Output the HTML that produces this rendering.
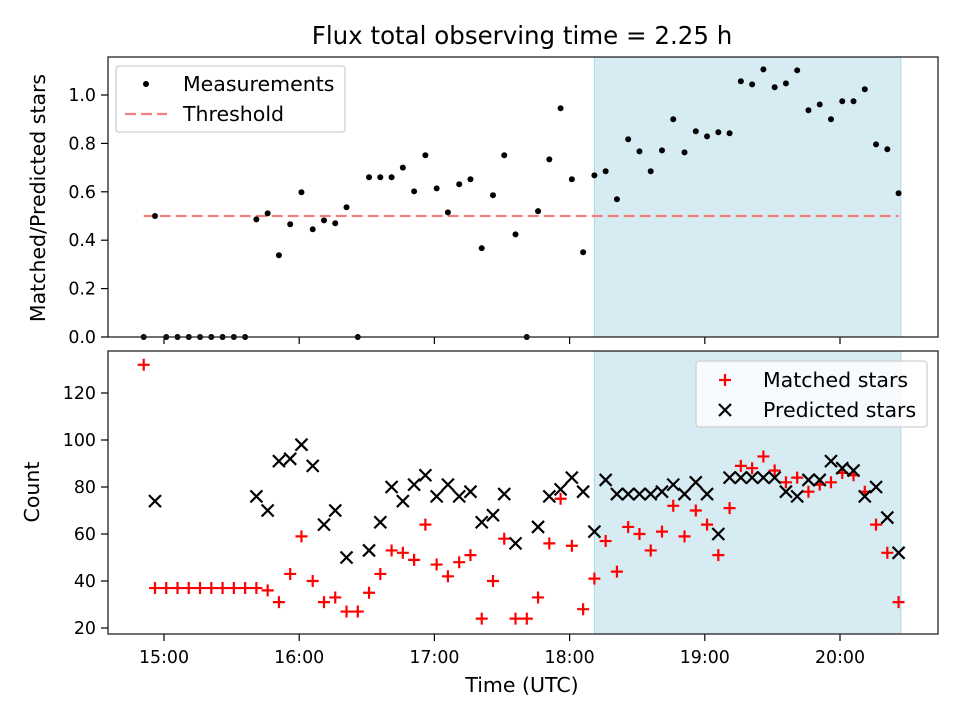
<!DOCTYPE html>
<html><head><meta charset="utf-8"><style>
body{margin:0;background:#fff}
svg{display:block;font-family:"DejaVu Sans","Liberation Sans",sans-serif}
</style></head><body>
<svg id="chart" width="960" height="720" viewBox="0 0 960 720" xmlns="http://www.w3.org/2000/svg">
<rect width="960" height="720" fill="#fff"/>
<text x="522" y="44" font-size="24.5" text-anchor="middle">Flux total observing time = 2.25 h</text>
<g id="top"></g><g id="bot"></g>
</svg>
<script>
const times=["14:51","14:56","15:01","15:06","15:11","15:16","15:21","15:26","15:31","15:36","15:41","15:46","15:51","15:56","16:01","16:06","16:11","16:16","16:21","16:26","16:31","16:36","16:41","16:46","16:51","16:56","17:01","17:06","17:11","17:16","17:21","17:26","17:31","17:36","17:41","17:46","17:51","17:56","18:01","18:06","18:11","18:16","18:21","18:26","18:31","18:36","18:41","18:46","18:51","18:56","19:01","19:06","19:11","19:16","19:21","19:26","19:31","19:36","19:41","19:46","19:51","19:56","20:01","20:06","20:11","20:16","20:21","20:26"];
const ratio=[0,0.50,0,0,0,0,0,0,0,0,0.486,0.511,0.338,0.466,0.598,0.445,0.482,0.470,0.536,0,0.66,0.66,0.66,0.70,0.602,0.751,0.614,0.515,0.631,0.652,0.367,0.586,0.751,0.424,0,0.52,0.734,0.945,0.652,0.35,0.668,0.685,0.569,0.817,0.767,0.685,0.771,0.90,0.763,0.85,0.829,0.846,0.842,1.057,1.044,1.106,1.032,1.048,1.102,0.937,0.961,0.90,0.974,0.974,1.024,0.796,0.776,0.594];
const matched=[132,37,37,37,37,37,37,37,37,37,37,36,31,43,59,40,31,33,27,27,35,43,53,52,49,64,47,42,48,51,24,40,58,24,24,33,56,75,55,28,41,57,44,63,60,53,61,72,59,70,64,51,71,89,88,93,87,82,84,78,81,82,86,85,78,64,52,31];
const predicted=[null,74,null,null,null,null,null,null,null,null,76,70,91,92,98,89,64,70,50,null,53,65,80,74,81,85,76,81,76,78,65,68,77,56,null,63,76,79,84,78,61,83,77,77,77,77,78,81,77,82,77,60,84,84,84,84,84,78,76,83,83,91,88,87,76,80,67,52];
const threshold=0.5;
const shadeSpan=["18:11","20:27"];
const xTicks=["15:00","16:00","17:00","18:00","19:00","20:00"];
const topTicks=[0,0.2,0.4,0.6,0.8,1.0];
const botTicks=[20,40,60,80,100,120];

const NS="http://www.w3.org/2000/svg";
function mk(parent,tag,attrs){const e=document.createElementNS(NS,tag);for(const k in attrs)e.setAttribute(k,attrs[k]);parent.appendChild(e);return e;}
function mins(t){const p=t.split(":");return (+p[0])*60+(+p[1])-900;}
const L=108,R=938;
const FT=17.4, FL=20.5;
function X(t){return 164+mins(t)*135.2/60;}
const T0=57,T1=337; function YT(v){return 337-v*242;}
const B0=351,B1=634; function YB(v){return 393+(120-v)*2.35;}

function panel(g,y0,y1,name){
  const s=mk(g,'rect',{x:X(shadeSpan[0]),y:y0,width:X(shadeSpan[1])-X(shadeSpan[0]),height:y1-y0,fill:'#add8e6','fill-opacity':0.5,stroke:'#add8e6','stroke-width':1});
  
  
  xTicks.forEach(t=>{const l=mk(g,'line',{x1:X(t),x2:X(t),y1:y1,y2:y1+7,stroke:'#000','stroke-width':1.2});
    
    });
}
function frame(g,y0,y1,name){
  const f=mk(g,'rect',{x:L,y:y0,width:R-L,height:y1-y0,fill:'none',stroke:'#222','stroke-width':1.3});
  
  
}
const gt=document.getElementById('top'), gb=document.getElementById('bot');
panel(gt,T0,T1,'top');
const th=mk(gt,'line',{x1:X(times[0]),x2:X(times[times.length-1]),y1:YT(threshold),y2:YT(threshold),stroke:'#f08080','stroke-width':2.2,'stroke-dasharray':'11,5'});


ratio.forEach((v,i)=>{const c=mk(gt,'circle',{cx:X(times[i]),cy:YT(v),r:3,fill:'#000'});
  
  });
frame(gt,T0,T1,'top');
topTicks.forEach(v=>{const y=YT(v);
  mk(gt,'line',{x1:L-7,x2:L,y1:y,y2:y,stroke:'#000','stroke-width':1.2});
  const t=mk(gt,'text',{x:L-12,y:y+6,'font-size':FT,'text-anchor':'end'});t.textContent=v.toFixed(1);
  
  });
const yt=mk(gt,'text',{x:0,y:0,'font-size':FL,'text-anchor':'middle',transform:'translate(45,198) rotate(-90)'});yt.textContent='Matched/Predicted stars';



panel(gb,B0,B1,'bottom');
matched.forEach((v,i)=>{const x=X(times[i]),y=YB(v);
  const p=mk(gb,'path',{d:`M${x-6},${y}H${x+6}M${x},${y-6}V${y+6}`,stroke:'#f00','stroke-width':2.2});
  
  });
predicted.forEach((v,i)=>{if(v===null)return;const x=X(times[i]),y=YB(v);
  const p=mk(gb,'path',{d:`M${x-6},${y-6}L${x+6},${y+6}M${x-6},${y+6}L${x+6},${y-6}`,stroke:'#000','stroke-width':2.2});
  
  });
frame(gb,B0,B1,'bottom');
botTicks.forEach(v=>{const y=YB(v);
  mk(gb,'line',{x1:L-7,x2:L,y1:y,y2:y,stroke:'#000','stroke-width':1.2});
  const t=mk(gb,'text',{x:L-12,y:y+6,'font-size':FT,'text-anchor':'end'});t.textContent=v;
  
  });
xTicks.forEach(v=>{const t=mk(gb,'text',{x:X(v),y:B1+29,'font-size':FT,'text-anchor':'middle'});t.textContent=v;
  
  });
const yb=mk(gb,'text',{x:0,y:0,'font-size':FL,'text-anchor':'middle',transform:'translate(39,492) rotate(-90)'});yb.textContent='Count';


const xt=mk(gb,'text',{x:522,y:692,'font-size':FL,'text-anchor':'middle'});xt.textContent='Time (UTC)';



const lg1=mk(gt,'g',{});


mk(lg1,'rect',{x:116,y:66,width:229,height:66,rx:3,fill:'#fff','fill-opacity':0.8,stroke:'#d0d0d0','stroke-width':1.3});
mk(lg1,'circle',{cx:146,cy:84,r:3,fill:'#000'});
mk(lg1,'line',{x1:125,x2:167,y1:114,y2:114,stroke:'#f08080','stroke-width':2.2,'stroke-dasharray':'11,5'});
let t1=mk(lg1,'text',{x:183,y:91,'font-size':FL});t1.textContent='Measurements';
let t2=mk(lg1,'text',{x:183,y:121,'font-size':FL});t2.textContent='Threshold';

const lg2=mk(gb,'g',{});


mk(lg2,'rect',{x:696,y:361,width:231,height:66,rx:3,fill:'#fff','fill-opacity':0.8,stroke:'#d0d0d0','stroke-width':1.3});
mk(lg2,'path',{d:'M719,380H731M725,374V386',stroke:'#f00','stroke-width':2.2});
mk(lg2,'path',{d:'M719,404L731,416M719,416L731,404',stroke:'#000','stroke-width':2.2});
let t3=mk(lg2,'text',{x:763,y:387,'font-size':FL});t3.textContent='Matched stars';
let t4=mk(lg2,'text',{x:763,y:417,'font-size':FL});t4.textContent='Predicted stars';
</script>
</body></html>
